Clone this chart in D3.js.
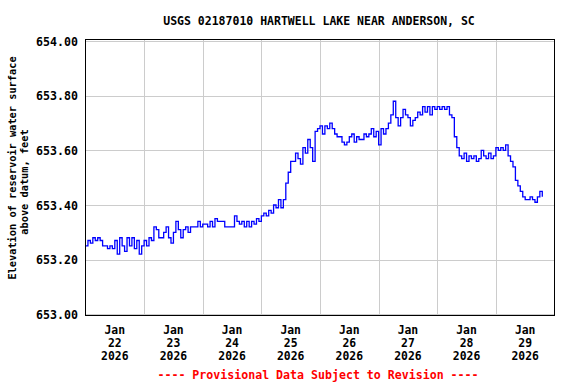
<!DOCTYPE html>
<html><head><meta charset="utf-8">
<script src="https://cdn.jsdelivr.net/npm/d3@7"></script>
<style>body{margin:0;background:#fff}svg{display:block}text{font-family:"DejaVu Sans Mono",monospace;font-weight:bold}</style>
</head><body><svg id="c" width="576" height="384"></svg>
<script>
const title = "USGS 02187010 HARTWELL LAKE NEAR ANDERSON, SC";
const yTitle = ["Elevation of reservoir water surface", "above datum, feet"];
const footer = "---- Provisional Data Subject to Revision ----";
const startTime = "2026-01-22T00:00";
const endTime = "2026-01-30T00:00";
const dayTicks = ["2026-01-22","2026-01-23","2026-01-24","2026-01-25","2026-01-26","2026-01-27","2026-01-28","2026-01-29"];
const yTicks = [653.0, 653.2, 653.4, 653.6, 653.8, 654.0];
// hourly gage height readings, starting Jan 22 00:00
const elevDay22 = [653.25,653.27,653.26,653.28,653.27,653.28,653.27,653.25,653.25,653.24,653.25,653.24,653.27,653.22,653.28,653.25,653.23,653.28,653.25,653.28,653.24,653.27,653.22,653.25];
const elevDay23 = [653.27,653.25,653.28,653.27,653.32,653.31,653.28,653.28,653.30,653.32,653.28,653.26,653.30,653.34,653.31,653.28,653.31,653.32,653.30,653.32,653.32,653.32,653.34,653.32];
const elevDay24 = [653.33,653.33,653.32,653.34,653.32,653.35,653.34,653.34,653.34,653.32,653.32,653.32,653.32,653.36,653.34,653.33,653.34,653.32,653.34,653.32,653.34,653.33,653.35,653.34];
const elevDay25 = [653.36,653.37,653.36,653.38,653.37,653.40,653.39,653.42,653.39,653.42,653.48,653.52,653.56,653.56,653.59,653.57,653.55,653.61,653.59,653.64,653.61,653.56,653.67,653.68];
const elevDay26 = [653.69,653.66,653.69,653.68,653.70,653.68,653.66,653.65,653.65,653.63,653.62,653.63,653.65,653.66,653.63,653.65,653.64,653.64,653.66,653.65,653.66,653.68,653.65,653.67];
const elevDay27 = [653.62,653.68,653.66,653.68,653.70,653.73,653.78,653.72,653.69,653.72,653.75,653.73,653.72,653.69,653.71,653.72,653.74,653.73,653.76,653.74,653.76,653.73,653.76,653.75];
const elevDay28 = [653.76,653.75,653.76,653.75,653.76,653.73,653.72,653.65,653.61,653.58,653.57,653.59,653.56,653.58,653.57,653.58,653.56,653.57,653.60,653.58,653.57,653.59,653.57,653.58];
const elevDay29 = [653.61,653.60,653.61,653.60,653.62,653.58,653.56,653.54,653.49,653.47,653.45,653.43,653.42,653.42,653.43,653.42,653.41,653.43,653.45,653.43];

const elev = [].concat(elevDay22, elevDay23, elevDay24, elevDay25, elevDay26, elevDay27, elevDay28, elevDay29);
const t0 = new Date(startTime);
const data = elev.map((v, i) => ({t: new Date(t0.getTime() + i * 3600e3), v}));

const svg = d3.select("#c");
const L = 85.5, R = 554.5, T = 39.5, B = 315.5;
const x = d3.scaleTime().domain([new Date(startTime), new Date(endTime)]).range([L, R]);
const y = d3.scaleLinear().domain([653, 654]).range([314.2, 41.2]);

// grid
const grid = svg.append("g").attr("stroke", "#cccccc").attr("stroke-width", 1);
yTicks.forEach(v => grid.append("line").attr("x1", L).attr("x2", R)
  .attr("y1", Math.round(y(v)) + 0.5).attr("y2", Math.round(y(v)) + 0.5));
dayTicks.slice(1).forEach(d => { const xx = Math.round(x(new Date(d + "T00:00"))) + 0.5;
  grid.append("line").attr("x1", xx).attr("x2", xx).attr("y1", T).attr("y2", B); });

// line
const line = d3.line().x(d => x(d.t)).y(d => y(d.v)).curve(d3.curveStepAfter);
svg.append("path").datum(data).attr("d", line).attr("fill", "none")
  .attr("stroke", "#0000ff").attr("stroke-width", 1.3);

// frame
svg.append("rect").attr("x", L).attr("y", T).attr("width", R - L).attr("height", B - T)
  .attr("fill", "none").attr("stroke", "#000").attr("stroke-width", 1);

// y tick labels
yTicks.forEach(v => svg.append("text").attr("x", 78).attr("y", y(v) + 4.5)
  .attr("text-anchor", "end").attr("font-size", "11.6px").text(d3.format(".2f")(v)));

// x tick labels
const fmtMon = d3.timeFormat("%b"), fmtDay = d3.timeFormat("%d"), fmtYr = d3.timeFormat("%Y");
dayTicks.forEach(d => {
  const dt = new Date(d + "T12:00");
  const g = svg.append("text").attr("text-anchor", "middle").attr("font-size", "11.4px");
  g.append("tspan").attr("x", x(dt)).attr("y", 334.3).text(fmtMon(dt));
  g.append("tspan").attr("x", x(dt)).attr("y", 347.3).text(fmtDay(dt));
  g.append("tspan").attr("x", x(dt)).attr("y", 360.3).text(fmtYr(dt));
});

// title
svg.append("text").attr("x", 319).attr("y", 25).attr("text-anchor", "middle")
  .attr("font-size", "11.5px").text(title);

// y title
svg.append("text").attr("transform", "translate(15.5,168) rotate(-90)").attr("text-anchor", "middle")
  .attr("font-size", "10.3px").text(yTitle[0]);
svg.append("text").attr("transform", "translate(28,182) rotate(-90)").attr("text-anchor", "middle")
  .attr("font-size", "10.3px").text(yTitle[1]);

// footer
svg.append("text").attr("x", 318).attr("y", 378.5).attr("text-anchor", "middle")
  .attr("font-size", "11.6px").attr("fill", "#ff0000").text(footer);
</script></body></html>
